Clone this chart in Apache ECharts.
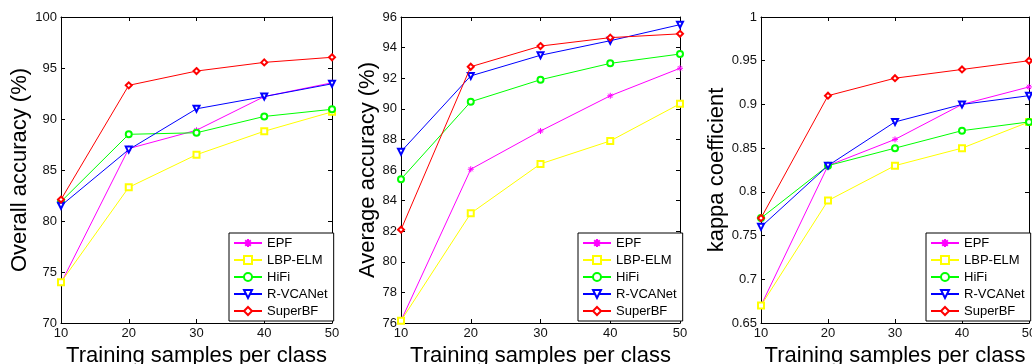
<!DOCTYPE html>
<html>
<head>
<meta charset="utf-8">
<script src="https://cdn.jsdelivr.net/npm/echarts@6/dist/echarts.min.js"></script>
<style>
  html, body { margin: 0; padding: 0; background: #fff; }
  #main { width: 1032px; height: 364px; }
</style>
</head>
<body>
<div id="main"></div>
<script>
// x axis: training samples per class
const samples = [10, 20, 30, 40, 50];
const methods = ['EPF', 'LBP-ELM', 'HiFi', 'R-VCANet', 'SuperBF'];

// overall accuracy (%)
const epfOA   = [73.9, 87.1, 88.9, 92.2, 93.55];
const lbpOA   = [74.0, 83.3, 86.5, 88.8, 90.7];
const hifiOA  = [81.9, 88.5, 88.65, 90.25, 90.95];
const rvcaOA  = [81.5, 87.0, 91.0, 92.2, 93.45];
const superOA = [82.1, 93.3, 94.7, 95.55, 96.05];

// average accuracy (%)
const epfAA   = [76.15, 86.05, 88.55, 90.85, 92.65];
const lbpAA   = [76.15, 83.17, 86.4, 87.9, 90.33];
const hifiAA  = [85.4, 90.46, 91.9, 92.97, 93.58];
const rvcaAA  = [87.2, 92.15, 93.5, 94.45, 95.5];
const superAA = [82.1, 92.75, 94.1, 94.65, 94.9];

// kappa coefficient
const epfK   = [0.67, 0.83, 0.86, 0.90, 0.92];
const lbpK   = [0.67, 0.79, 0.83, 0.85, 0.88];
const hifiK  = [0.77, 0.83, 0.85, 0.87, 0.88];
const rvcaK  = [0.76, 0.83, 0.88, 0.90, 0.91];
const superK = [0.77, 0.91, 0.93, 0.94, 0.95];

const colors = ['#ff00ff', '#ffff00', '#00ff00', '#0000ff', '#ff0000'];
const symbols = [
  'path://M5,0L5,10M0,5L10,5M1.5,1.5L8.5,8.5M1.5,8.5L8.5,1.5',
  'emptyRect', 'emptyCircle', 'emptyTriangle', 'emptyDiamond'
];
const symbolRotate = [0, 0, 0, 180, 0];

const panels = [
  {left: 61, width: 271, min: 70, max: 100, interval: 5, name: 'Overall accuracy (%)',
   nameGap: 25, data: [epfOA, lbpOA, hifiOA, rvcaOA, superOA], legendLeft: 229},
  {left: 401, width: 279, min: 76, max: 96, interval: 2, name: 'Average accuracy (%)',
   nameGap: 16, data: [epfAA, lbpAA, hifiAA, rvcaAA, superAA], legendLeft: 578},
  {left: 761, width: 268, min: 0.65, max: 1, interval: 0.05, name: 'kappa coefficient',
   nameGap: 30, data: [epfK, lbpK, hifiK, rvcaK, superK], legendLeft: 926}
];

const font = 'Arial, "Liberation Sans", sans-serif';
const grid = [], xAxis = [], yAxis = [], series = [], legend = [];

panels.forEach((p, i) => {
  // outerBoundsMode none: let the axis titles run off the edge like the original
  grid.push({left: p.left, top: 17, width: p.width, height: 306, show: false, outerBoundsMode: 'none'});
  // bottom axis with labels
  xAxis.push({
    type: 'value', gridIndex: i, min: 10, max: 50, interval: 10,
    name: 'Training samples per class', nameLocation: 'middle', nameGap: 19,
    nameTextStyle: {fontFamily: font, fontSize: 22, color: '#000'},
    axisLine: {lineStyle: {color: '#000', width: 1}},
    axisTick: {inside: true, length: 4, lineStyle: {color: '#000'}},
    axisLabel: {fontFamily: font, fontSize: 13, color: '#111', margin: 4},
    splitLine: {show: false}
  });
  // top axis, box only
  xAxis.push({
    type: 'value', gridIndex: i, position: 'top', min: 10, max: 50, interval: 10,
    axisLine: {lineStyle: {color: '#000', width: 1}},
    axisTick: {inside: true, length: 4, lineStyle: {color: '#000'}},
    axisLabel: {show: false}, splitLine: {show: false}
  });
  yAxis.push({
    type: 'value', gridIndex: i, min: p.min, max: p.max, interval: p.interval,
    name: p.name, nameLocation: 'middle', nameGap: p.nameGap,
    nameTextStyle: {fontFamily: font, fontSize: 22, color: '#000'},
    axisLine: {show: true, lineStyle: {color: '#000', width: 1}},
    axisTick: {show: true, inside: true, length: 4, lineStyle: {color: '#000'}},
    axisLabel: {fontFamily: font, fontSize: 13, color: '#111', margin: 4,
      formatter: v => String(parseFloat(v.toFixed(2)))},
    splitLine: {show: false}
  });
  // right axis, box only
  yAxis.push({
    type: 'value', gridIndex: i, position: 'right', min: p.min, max: p.max, interval: p.interval,
    axisLine: {show: true, lineStyle: {color: '#000', width: 1}},
    axisTick: {show: true, inside: true, length: 4, lineStyle: {color: '#000'}},
    axisLabel: {show: false}, splitLine: {show: false}
  });
  methods.forEach((m, k) => {
    series.push({
      name: m, type: 'line', xAxisIndex: i * 2, yAxisIndex: i * 2,
      data: samples.map((x, j) => [x, p.data[k][j]]),
      symbol: symbols[k], symbolSize: 6, symbolRotate: symbolRotate[k],
      lineStyle: {color: colors[k], width: 1},
      itemStyle: {color: colors[k], borderColor: colors[k], borderWidth: 1},
      z: 2 + k, animation: false
    });
  });
  legend.push({
    data: methods, orient: 'vertical', left: p.legendLeft, top: 233,
    backgroundColor: '#fff', borderColor: '#000', borderWidth: 1,
    padding: [3, 6, 3, 4], itemGap: 3, itemWidth: 28, itemHeight: 10,
    textStyle: {fontFamily: font, fontSize: 13, color: '#000', lineHeight: 14},
    selectedMode: false
  });
});

let myChart = echarts.init(document.getElementById('main'));
myChart.setOption({
  animation: false,
  backgroundColor: '#fff',
  grid: grid, xAxis: xAxis, yAxis: yAxis, legend: legend, series: series
});
</script>
</body>
</html>
